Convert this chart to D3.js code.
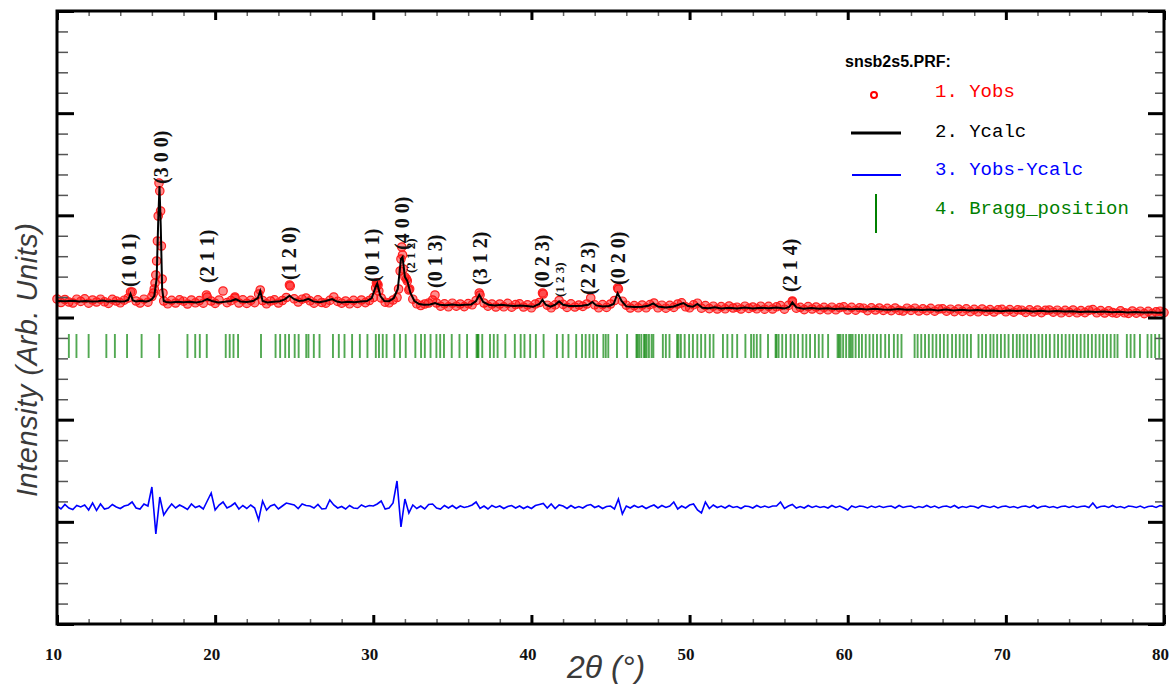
<!DOCTYPE html>
<html>
<head>
<meta charset="utf-8">
<script src="https://cdn.jsdelivr.net/npm/d3@7"></script>
<style>
  body { margin: 0; background: #fff; }
</style>
</head>
<body>
<script>
// snsb2s5.PRF - Rietveld plot (Yobs, Ycalc, Yobs-Ycalc, Bragg positions)

// observed profile, 2theta grid from 10 to 80 in steps of 0.25
var tthStart = 10;
var tthStep = 0.25;
var yObs = [
  320, 285, 315, 290,  280, 318, 296, 322,  278, 310, 290, 318,  292, 276, 316, 300,
  282, 308, 330, 390,  300, 280, 318, 288,  345, 560, 1400, 300, 272, 306, 280, 312,
  298, 270, 310, 282,  304, 278, 340, 300,  276, 310, 400, 284,  304, 330, 280, 312,
  276, 306, 284, 370,  305, 272, 300, 312,  280, 305, 335, 450,  322, 290, 318, 330,
  302, 278, 312, 285,  278, 306, 340, 296,  278, 300, 272, 306,  276, 310, 284, 305,
  335, 470, 330, 288,  282, 310, 335, 720,  540, 410, 318, 272,  255, 270, 280, 310,
  280, 248, 272, 242,  278, 248, 270, 244,  274, 262, 305, 360,  280, 248, 270, 240,
  270, 242, 276, 238,  264, 272, 240, 262,  232, 270, 285, 370,  258, 232, 262, 305,
  266, 236, 272, 240,  260, 246, 270, 330,  262, 232, 264, 236,  270, 305, 420, 298,
  258, 230, 254, 232,  260, 232, 264, 280,  232, 258, 228, 256,  236, 270, 282, 242,
  232, 262, 278, 228,  254, 224, 248, 220,  244, 222, 250, 230,  238, 220, 248, 226,
  240, 222, 248, 218,  246, 220, 242, 254,  218, 256, 292, 228,  236, 214, 244, 220,
  240, 214, 236, 212,  238, 212, 234, 242,  210, 236, 208, 232,  228, 204, 232, 210,
  230, 206, 226, 204,  230, 206, 200, 228,  206, 228, 200, 222,  204, 226, 198, 220,
  222, 198, 218, 194,  220, 196, 222, 194,  216, 192, 220, 196,  214, 190, 212, 216,
  192, 214, 188, 212,  208, 186, 212, 190,  210, 184, 206, 210,  188, 208, 182, 206,
  186, 210, 182, 204,  184, 206, 214, 182,  204, 180, 202, 184,  178, 202, 182, 176,
  200, 178, 198, 174,  196, 174, 192, 198,  184
];

// extra observed points on the steep parts of the strong reflections
var obsPeakTth = [14.65, 16.1, 16.15, 16.2, 16.3, 16.35, 16.4, 16.45, 16.55, 16.6, 16.65, 16.7,
  19.45, 21.25, 22.85, 24.7, 30.15, 30.2, 30.3, 30.35, 31.6, 31.7, 31.8, 31.85, 31.9, 32.1,
  32.15, 32.3, 33.9, 36.7, 40.7, 45.45, 56.5];
var obsPeakI = [390, 380, 420, 480, 700, 900, 1150, 1480, 1200, 850, 520, 380,
  360, 340, 410, 460, 430, 480, 460, 400, 420, 600, 840, 760, 620, 520,
  500, 420, 360, 380, 380, 430, 300];

// calculated profile
var calcTth = [10.0, 10.5, 11.0, 11.4, 11.8, 12.2, 12.6, 12.9, 13.2, 13.6,
  14.0, 14.3, 14.5, 14.65, 14.8, 15.0, 15.3, 15.6, 15.8, 16.0,
  16.15, 16.3, 16.4, 16.48, 16.56, 16.65, 16.75, 16.9, 17.2, 17.6,
  18.0, 18.4, 18.8, 19.2, 19.5, 19.8, 20.2, 20.6, 21.0, 21.3,
  21.6, 22.0, 22.4, 22.7, 22.85, 23.0, 23.3, 23.7, 24.1, 24.4,
  24.7, 25.0, 25.3, 25.6, 25.9, 26.2, 26.6, 27.0, 27.4, 27.7,
  28.0, 28.4, 28.8, 29.2, 29.6, 29.9, 30.15, 30.25, 30.45, 30.7,
  31.0, 31.3, 31.55, 31.75, 31.85, 32.0, 32.15, 32.35, 32.6, 32.9,
  33.2, 33.6, 33.9, 34.2, 34.6, 35.0, 35.4, 35.8, 36.2, 36.5,
  36.7, 36.95, 37.3, 37.7, 38.1, 38.5, 38.9, 39.3, 39.7, 40.1,
  40.5, 40.7, 40.9, 41.2, 41.5, 41.75, 42.0, 42.4, 42.8, 43.2,
  43.6, 43.85, 44.1, 44.5, 44.9, 45.2, 45.45, 45.7, 46.0, 46.5,
  47.0, 47.4, 47.7, 48.0, 48.5, 49.0, 49.3, 49.6, 49.9, 50.2,
  50.5, 50.8, 51.2, 51.6, 52.0, 52.5, 53.0, 53.5, 54.0, 54.5,
  55.0, 55.5, 56.0, 56.3, 56.5, 56.75, 57.2, 57.7, 58.2, 58.7,
  59.2, 59.7, 60.2, 60.7, 61.2, 61.7, 62.2, 62.7, 63.2, 63.7,
  64.2, 64.7, 65.2, 65.7, 66.2, 66.7, 67.2, 67.7, 68.2, 68.7,
  69.2, 69.7, 70.2, 70.7, 71.2, 71.7, 72.2, 72.7, 73.2, 73.7,
  74.2, 74.7, 75.2, 75.7, 76.2, 76.7, 77.2, 77.7, 78.2, 78.7,
  79.2, 79.6, 80.0];
var calcI = [300, 298, 302, 296, 300, 294, 298, 304, 296, 300,
  294, 298, 310, 372, 305, 296, 302, 296, 300, 318,
  350, 520, 1100, 1450, 1050, 420, 300, 290, 286, 292,
  288, 292, 286, 296, 318, 300, 286, 292, 300, 318,
  296, 290, 300, 330, 400, 300, 286, 292, 298, 316,
  352, 318, 300, 306, 322, 296, 288, 300, 320, 294,
  286, 292, 288, 294, 300, 330, 440, 475, 350, 300,
  298, 330, 420, 720, 740, 540, 500, 380, 300, 270,
  262, 266, 280, 262, 258, 266, 258, 262, 266, 300,
  362, 290, 262, 256, 262, 256, 250, 256, 250, 242,
  270, 312, 262, 244, 262, 296, 262, 250, 250, 252,
  262, 290, 256, 246, 250, 270, 378, 300, 246, 240,
  242, 252, 276, 244, 236, 246, 262, 280, 250, 242,
  270, 232, 228, 238, 226, 232, 226, 236, 226, 232,
  228, 234, 224, 240, 286, 236, 222, 230, 222, 228,
  220, 226, 218, 222, 214, 222, 216, 212, 220, 212,
  216, 210, 216, 206, 214, 206, 212, 204, 210, 202,
  206, 198, 206, 200, 204, 196, 202, 194, 200, 194,
  198, 190, 196, 190, 194, 188, 192, 186, 190, 184,
  188, 182, 186];

// Yobs - Ycalc on the same grid as yObs
var yDiff = [
  10, -20, 25, -10,  -25, 15, 0, 20,  -30, 40, -35, 30,  -20, -10, 25, 0,
  -15, 10, 20, 50,  -10, -20, 30, 10,  200, -270, 100, -80,  -20, 30, -10, 20,
  0, -25, 30, -5,  10, -20, 60, 140,  -30, 20, 50, -10,  10, 40, -20, 15,
  -15, 20, -10, -130,  60, -30, 10, 25,  -20, 10, 40, 30,  20, -15, 30, 15,
  10, -10, 25, -20,  -15, 70, 20, -10,  5, -20, 15, -10,  -15, 20, 0, 15,
  10, 30, 60, -20,  -10, 40, 260, -200,  80, -60, 20, -15,  10, -20, 25, 30,
  -10, -20, 15, -10,  15, -15, 10, -5,  5, 20, 50, -15,  10, -20, 15, -5,
  10, -15, 5, 15,  -10, 10, -15, 5,  -15, 15, 25, 35,  -10, 30, -15, 20,
  10, -15, 15, -10,  5, -10, 15, 25,  -5, 10, -15, 5,  10, -20, 80, -70,
  10, -10, 15, -5,  10, -15, 5, 20,  -10, 15, -5, 10,  50, -20, 10, -10,
  20, 30, -30, -60,  50, -15, 20, -5,  10, -10, 15, -5,  5, -15, 10, 5,
  -10, 15, -5, 10,  -5, 10, 10, 50,  -15, 10, 25, -10,  5, -10, 15, -5,
  10, -5, 5, -10,  15, -5, 10, -10,  -30, 10, -5, 10,  5, -10, 10, -5,
  10, -5, 5, 10,  -10, 15, -5, 5,  10, -10, 5, -5,  15, -5, 10, -10,
  5, 10, -5, 15,  -10, 5, -5, 10,  5, -10, 15, 5,  -5, 10, -10, 5,
  10, -5, 5, -10,  5, 10, -5, 15,  -10, 5, 10, -5,  5, -10, 5, 10,
  -5, 10, -5, 5,  10, -5, 40, -10,  5, 10, -5, 15,  -5, 5, -10, 10,
  5, -5, 10, -10,  5, 10, -5, 15,  5
];
var diffShift = -1760;

// Bragg reflection positions (2theta)
var braggPos = [10.75, 11.23, 12.0, 13.12, 13.66, 14.43, 15.35, 16.46,
  18.25, 18.74, 19.03, 19.47, 20.67, 20.92, 21.16, 21.45, 22.9,
  23.82, 24.11, 24.43, 24.67, 25.03, 25.28, 25.76, 25.9, 26.24, 26.6,
  27.45, 27.82, 28.18, 28.66, 29.15, 29.63, 30.16, 30.36, 30.6, 30.84, 31.33, 31.69, 32.05,
  32.66, 33.02, 33.26, 33.62, 33.99, 34.23, 34.47, 34.96, 35.45, 35.93,
  36.53, 36.6, 36.65, 36.89, 37.38, 37.62, 37.86, 38.35, 38.95, 39.32, 39.56, 39.92, 40.28, 40.77,
  41.61, 41.98, 42.34, 42.83, 43.2, 43.43, 43.67, 43.91,
  44.15, 44.55, 44.7, 44.86, 45.41, 46.05,
  46.64, 46.7, 46.81, 46.95, 47.12, 47.2, 47.29, 47.43, 47.6, 47.71,
  48.31, 48.5, 48.73, 49.21, 49.3, 49.45, 49.69, 49.97, 50.21, 50.49, 50.73, 50.99, 51.28, 51.51,
  52.11, 52.39, 52.7, 53.01, 53.53, 53.89, 54.06, 54.25, 54.48, 54.96,
  55.44, 55.5, 55.63, 55.86, 56.1, 56.39, 56.62, 56.86, 57.15, 57.38, 57.62, 57.93, 58.17, 58.41, 58.76,
  59.36, 59.45, 59.55, 59.71, 59.9, 60.09, 60.2, 60.31, 60.5, 60.71, 60.9, 61.14, 61.38, 61.61,
  61.85, 62.09, 62.37, 62.61, 62.92, 63.16, 63.4,
  64.23, 64.42, 64.65, 64.89, 65.13, 65.37, 65.6, 65.84, 66.08, 66.32, 66.6, 66.84, 67.08, 67.32, 67.55, 67.79,
  68.27, 68.5, 68.74, 69.02, 69.22, 69.45, 69.69, 69.93, 70.17, 70.45, 70.69, 70.88,
  71.12, 71.35, 71.59, 71.83, 72.07, 72.3, 72.54, 72.78, 73.07, 73.3, 73.54, 73.78, 74.02, 74.25,
  74.49, 74.73, 74.97, 75.2, 75.44, 75.68, 75.92, 76.15, 76.39, 76.63, 76.87, 77.06,
  77.65, 77.89, 78.13, 78.48, 78.96, 79.2, 79.44, 79.7];
var braggTop = -30;
var braggBottom = -270;

// Miller index labels
var hklText = ["(1 0 1)", "(3 0 0)", "(2 1 1)", "(1 2 0)", "(0 1 1)", "(4 0 0)", "(2 1 2)",
  "(0 1 3)", "(3 1 2)", "(0 2 3)", "(1 2 3)", "(2 2 3)", "(0 2 0)", "(2 1 4)"];
var hklTth = [14.55, 16.58, 19.49, 24.67, 29.92, 31.82, 32.33, 33.91, 36.75, 40.68, 41.75, 43.59, 45.48, 56.36];
var hklI = [440, 1470, 480, 510, 490, 810, 580, 430, 460, 430, 340, 360, 460, 390];
var hklSmall = [false, false, false, false, false, false, true, false, false, false, true, false, false, false];

var xTicks = [10, 20, 30, 40, 50, 60, 70, 80];
var legendTitle = "snsb2s5.PRF:";
var legendNames = ["1. Yobs", "2. Ycalc", "3. Yobs-Ycalc", "4. Bragg_position"];
var legendColors = ["#ff0000", "#000000", "#0000ff", "#008000"];

var width = 1169, height = 684;
var padL = 57, padR = 1164, padT = 11, padB = 624;

var svg = d3.select("body").append("svg")
  .attr("width", width)
  .attr("height", height);

svg.append("rect").attr("width", width).attr("height", height).attr("fill", "#fff");

var x = d3.scaleLinear().domain([10, 80]).range([padL, padR]);
var y = d3.scaleLinear().domain([-2930, 3200]).range([padB, padT]);
// frame tick scale (arbitrary units, no labels)
var yf = d3.scaleLinear().domain([0, 6]).range([padB, padT]);

var obs = yObs.map(function(v, i) { return [tthStart + i * tthStep, v]; });
obsPeakTth.forEach(function(t, i) { obs.push([t, obsPeakI[i]]); });
var calc = calcTth.map(function(t, i) { return [t, calcI[i]]; });
var diff = yDiff.map(function(v, i) { return [tthStart + i * tthStep, v + diffShift]; });

// Bragg ticks
svg.append("g").selectAll("line")
  .data(braggPos)
  .enter().append("line")
  .attr("x1", function(d) { return x(d); })
  .attr("x2", function(d) { return x(d); })
  .attr("y1", y(braggTop))
  .attr("y2", y(braggBottom))
  .attr("stroke", "#008000")
  .attr("stroke-opacity", 0.68)
  .attr("stroke-width", 1.9);

// observed points
svg.append("g").selectAll("circle")
  .data(obs)
  .enter().append("circle")
  .attr("cx", function(d) { return x(d[0]); })
  .attr("cy", function(d) { return y(d[1]); })
  .attr("r", 4.2)
  .attr("fill", "rgba(255,0,0,0.45)")
  .attr("stroke", "#ff2020")
  .attr("stroke-width", 1.2);

var line = d3.line()
  .x(function(d) { return x(d[0]); })
  .y(function(d) { return y(d[1]); });

svg.append("path")
  .datum(calc)
  .attr("d", line)
  .attr("fill", "none")
  .attr("stroke", "#000")
  .attr("stroke-width", 2);

svg.append("path")
  .datum(diff)
  .attr("d", line)
  .attr("fill", "none")
  .attr("stroke", "#0000ff")
  .attr("stroke-width", 1.6);

// hkl labels
svg.append("g").selectAll("text")
  .data(hklText)
  .enter().append("text")
  .attr("transform", function(d, i) {
    return "translate(" + x(hklTth[i]) + "," + y(hklI[i]) + ") rotate(-90)";
  })
  .attr("dominant-baseline", "central")
  .attr("font-family", "Liberation Serif, serif")
  .attr("font-weight", "bold")
  .attr("font-size", function(d, i) { return hklSmall[i] ? 13 : 20; })
  .attr("fill", "#111")
  .text(function(d) { return d; });

// frame ticks
var yMajor = d3.range(0, 7);
var yMinor = d3.range(0, 30).filter(function(k) { return k % 5 != 0; }).map(function(k) { return k / 5; });
var xMinor = d3.range(12, 80, 2).filter(function(v) { return v % 10 != 0; });

function styleTicks(g, w, col) {
  g.select(".domain").remove();
  g.selectAll("line").attr("stroke", col).attr("stroke-width", w);
}

svg.append("g").attr("transform", "translate(" + padL + ",0)")
  .call(d3.axisLeft(yf).tickValues(yMinor).tickSize(-11).tickFormat(""))
  .call(styleTicks, 1.5, "#555");
svg.append("g").attr("transform", "translate(" + padL + ",0)")
  .call(d3.axisLeft(yf).tickValues(yMajor).tickSize(-17).tickFormat(""))
  .call(styleTicks, 3, "#000");
svg.append("g").attr("transform", "translate(" + padR + ",0)")
  .call(d3.axisRight(yf).tickValues(yMinor).tickSize(-9).tickFormat(""))
  .call(styleTicks, 1.5, "#555");
svg.append("g").attr("transform", "translate(" + padR + ",0)")
  .call(d3.axisRight(yf).tickValues(yMajor).tickSize(-16).tickFormat(""))
  .call(styleTicks, 3, "#000");

svg.append("g").attr("transform", "translate(0," + padT + ")")
  .call(d3.axisTop(x).tickValues(xMinor).tickSize(-5).tickFormat(""))
  .call(styleTicks, 1.5, "#666");
svg.append("g").attr("transform", "translate(0," + padT + ")")
  .call(d3.axisTop(x).tickValues(xTicks).tickSize(-9).tickFormat(""))
  .call(styleTicks, 3, "#000");
svg.append("g").attr("transform", "translate(0," + padB + ")")
  .call(d3.axisBottom(x).tickValues(xMinor).tickSize(-5).tickFormat(""))
  .call(styleTicks, 1.5, "#666");

var xAxis = svg.append("g").attr("transform", "translate(0," + padB + ")")
  .call(d3.axisBottom(x).tickValues(xTicks).tickSize(-9).tickPadding(24).tickFormat(d3.format("d")))
  .call(styleTicks, 3, "#000");
xAxis.selectAll("text")
  .attr("dx", -4)
  .attr("font-family", "Liberation Serif, serif")
  .attr("font-weight", "bold")
  .attr("font-size", 17)
  .attr("fill", "#111");

// frame
svg.append("rect")
  .attr("x", padL).attr("y", padT)
  .attr("width", padR - padL).attr("height", padB - padT)
  .attr("fill", "none")
  .attr("stroke", "#000")
  .attr("stroke-width", 3);

// axis titles
svg.append("text")
  .attr("transform", "translate(37,360) rotate(-90)")
  .attr("text-anchor", "middle")
  .attr("font-family", "Liberation Sans, Arial, sans-serif")
  .attr("font-style", "italic")
  .attr("font-size", 29)
  .attr("textLength", 274)
  .attr("lengthAdjust", "spacing")
  .attr("fill", "#3a3a3a")
  .text("Intensity (Arb. Units)");

svg.append("text")
  .attr("x", 606).attr("y", 678)
  .attr("text-anchor", "middle")
  .attr("font-family", "Liberation Sans, Arial, sans-serif")
  .attr("font-style", "italic")
  .attr("font-size", 32)
  .attr("fill", "#3a3a3a")
  .text("2\u03b8 (\u00b0)");

// legend
var lg = svg.append("g");
lg.append("text")
  .attr("x", 845).attr("y", 67)
  .attr("font-family", "Liberation Sans, Arial, sans-serif")
  .attr("font-weight", "bold")
  .attr("font-size", 16)
  .text(legendTitle);

var rowY = [97, 137, 175, 214];
lg.selectAll(".name")
  .data(legendNames)
  .enter().append("text")
  .attr("class", "name")
  .attr("x", 935)
  .attr("y", function(d, i) { return rowY[i]; })
  .attr("font-family", "Liberation Mono, monospace")
  .attr("font-size", 19)
  .attr("fill", function(d, i) { return legendColors[i]; })
  .text(function(d) { return d; });

lg.append("circle")
  .attr("cx", 874).attr("cy", 95).attr("r", 3)
  .attr("fill", "#fff").attr("stroke", legendColors[0]).attr("stroke-width", 2);
lg.append("line")
  .attr("x1", 851).attr("x2", 901).attr("y1", 133).attr("y2", 133)
  .attr("stroke", legendColors[1]).attr("stroke-width", 3);
lg.append("line")
  .attr("x1", 852).attr("x2", 901).attr("y1", 175).attr("y2", 175)
  .attr("stroke", legendColors[2]).attr("stroke-width", 1.8);
lg.append("line")
  .attr("x1", 876).attr("x2", 876).attr("y1", 194).attr("y2", 233)
  .attr("stroke", legendColors[3]).attr("stroke-width", 2);
</script>
</body>
</html>
